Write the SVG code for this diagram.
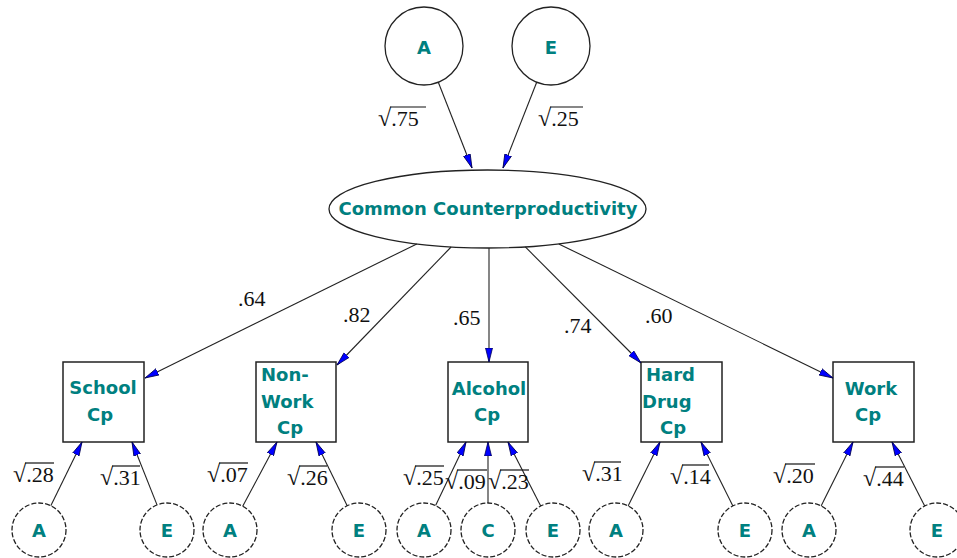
<svg xmlns="http://www.w3.org/2000/svg" width="957" height="558" viewBox="0 0 957 558">
  <style>
    .bg { fill: #ffffff; }
    .latent { fill: #ffffff; stroke: #222222; stroke-width: 1.3; }
    .resid { fill: #ffffff; stroke: #222222; stroke-width: 1.3; stroke-dasharray: 5 2; }
    .obs { fill: #ffffff; stroke: #222222; stroke-width: 1.5; }
    .lbl { font-family: "DejaVu Sans", Verdana, sans-serif; font-weight: bold; font-size: 18px; fill: #008080; }
    .lblc { font-family: "DejaVu Sans", Verdana, sans-serif; font-weight: bold; font-size: 18px; fill: #008080; text-anchor: middle; }
    .path { fill: none; stroke: #222222; stroke-width: 1.1; marker-end: url(#arr); }
    .coef { font-family: "Liberation Serif", "Times New Roman", serif; font-size: 22px; fill: #111111; }
    .rad { font-size: 24px; }
    .bar { stroke: #111111; stroke-width: 1.2; }
  </style>
  <defs>
    <marker id="arr" viewBox="0 0 14 8" refX="14" refY="4" markerWidth="14" markerHeight="8" orient="auto" markerUnits="userSpaceOnUse">
      <path d="M0,0.5 L14,4 L0,7.5 z" fill="#0000ff" stroke="#000050" stroke-width="0.8"/>
    </marker>
  </defs>
  <rect class="bg" x="0" y="0" width="957" height="558"/>

  <!-- common factor sources -->
  <g id="topA"><circle class="latent" cx="424" cy="46" r="39"/><text class="lblc" x="424" y="54">A</text></g>
  <g id="topE"><circle class="latent" cx="551" cy="46" r="39"/><text class="lblc" x="551" y="54">E</text></g>

  <!-- common factor -->
  <g id="common">
    <ellipse class="latent" cx="487.5" cy="209" rx="158.5" ry="39"/>
    <text class="lbl" x="488" y="215" text-anchor="middle">Common Counterproductivity</text>
  </g>

  <!-- observed measures -->
  <g id="school">
    <rect class="obs" x="63" y="362" width="81" height="80"/>
    <text class="lbl" x="103" y="394" text-anchor="middle">School</text>
    <text class="lbl" x="100" y="421" text-anchor="middle">Cp</text>
  </g>
  <g id="nonwork">
    <rect class="obs" x="256" y="362" width="80" height="80"/>
    <text class="lbl" x="261" y="381">Non-</text>
    <text class="lbl" x="261" y="408">Work</text>
    <text class="lbl" x="290" y="434" text-anchor="middle">Cp</text>
  </g>
  <g id="alcohol">
    <rect class="obs" x="448" y="362" width="80" height="80"/>
    <text class="lbl" x="489" y="395" text-anchor="middle">Alcohol</text>
    <text class="lbl" x="487" y="421" text-anchor="middle">Cp</text>
  </g>
  <g id="harddrug">
    <rect class="obs" x="641" y="362" width="81" height="80"/>
    <text class="lbl" x="646" y="381">Hard</text>
    <text class="lbl" x="642" y="408">Drug</text>
    <text class="lbl" x="673" y="434" text-anchor="middle">Cp</text>
  </g>
  <g id="work">
    <rect class="obs" x="833" y="362" width="81" height="80"/>
    <text class="lbl" x="871" y="395" text-anchor="middle">Work</text>
    <text class="lbl" x="868" y="421" text-anchor="middle">Cp</text>
  </g>

  <!-- residual sources -->
  <g id="schoolA"><circle class="resid" cx="39" cy="530" r="27"/><text class="lblc" x="39" y="537">A</text></g>
  <g id="schoolE"><circle class="resid" cx="167" cy="530" r="27"/><text class="lblc" x="167" y="537">E</text></g>
  <g id="nonworkA"><circle class="resid" cx="230" cy="530" r="27"/><text class="lblc" x="230" y="537">A</text></g>
  <g id="nonworkE"><circle class="resid" cx="359" cy="530" r="27"/><text class="lblc" x="359" y="537">E</text></g>
  <g id="alcoholA"><circle class="resid" cx="424" cy="530" r="27"/><text class="lblc" x="424" y="537">A</text></g>
  <g id="alcoholC"><circle class="resid" cx="488" cy="530" r="27"/><text class="lblc" x="488" y="537">C</text></g>
  <g id="alcoholE"><circle class="resid" cx="553" cy="530" r="27"/><text class="lblc" x="553" y="537">E</text></g>
  <g id="harddrugA"><circle class="resid" cx="616" cy="530" r="27"/><text class="lblc" x="616" y="537">A</text></g>
  <g id="harddrugE"><circle class="resid" cx="745" cy="530" r="27"/><text class="lblc" x="745" y="537">E</text></g>
  <g id="workA"><circle class="resid" cx="809" cy="530" r="27"/><text class="lblc" x="809" y="537">A</text></g>
  <g id="workE"><circle class="resid" cx="937" cy="530" r="27"/><text class="lblc" x="937" y="537">E</text></g>

  <!-- connectors -->
  <g id="connectors">
    <line class="path" x1="438.3" y1="82.3" x2="472" y2="168"/>
    <line class="path" x1="536.7" y1="82.3" x2="503" y2="168"/>

    <line class="path" x1="416.8" y1="243.9" x2="145" y2="378"/>
    <line class="path" x1="451.1" y1="247" x2="337" y2="365"/>
    <line class="path" x1="489" y1="248" x2="489" y2="362"/>
    <line class="path" x1="525.3" y1="246.9" x2="641" y2="363"/>
    <line class="path" x1="558.8" y1="243.9" x2="833" y2="378"/>

    <line class="path" x1="50.8" y1="505.8" x2="82" y2="442"/>
    <line class="path" x1="157" y1="504.9" x2="132" y2="442"/>
    <line class="path" x1="242.7" y1="506.2" x2="277" y2="442"/>
    <line class="path" x1="347.2" y1="505.8" x2="316" y2="442"/>
    <line class="path" x1="435.6" y1="505.6" x2="466" y2="442"/>
    <line class="path" x1="488" y1="503" x2="488" y2="442"/>
    <line class="path" x1="540.7" y1="506" x2="508" y2="442"/>
    <line class="path" x1="628.1" y1="505.9" x2="660" y2="442"/>
    <line class="path" x1="732.9" y1="505.9" x2="701" y2="442"/>
    <line class="path" x1="821.1" y1="505.9" x2="853" y2="442"/>
    <line class="path" x1="924.7" y1="506" x2="892" y2="442"/>
  </g>

  <!-- path coefficients -->
  <g id="loadings">
    <text class="coef" x="238" y="306">.64</text>
    <text class="coef" x="343" y="322">.82</text>
    <text class="coef" x="453" y="325">.65</text>
    <text class="coef" x="564" y="333">.74</text>
    <text class="coef" x="645" y="323">.60</text>
  </g>

  <!-- square-root variance labels -->
  <g id="variances">
    <text class="coef" x="378" y="126"><tspan class="rad">√</tspan>.75</text><line class="bar" x1="390" y1="107" x2="426" y2="107"/>
    <text class="coef" x="538" y="126"><tspan class="rad">√</tspan>.25</text><line class="bar" x1="550" y1="107" x2="583" y2="107"/>
    <text class="coef" x="13" y="482"><tspan class="rad">√</tspan>.28</text><line class="bar" x1="25" y1="463" x2="54" y2="463"/>
    <text class="coef" x="100" y="485"><tspan class="rad">√</tspan>.31</text><line class="bar" x1="112" y1="466" x2="140" y2="466"/>
    <text class="coef" x="207" y="482"><tspan class="rad">√</tspan>.07</text><line class="bar" x1="219" y1="463" x2="248" y2="463"/>
    <text class="coef" x="287" y="485"><tspan class="rad">√</tspan>.26</text><line class="bar" x1="299" y1="466" x2="327" y2="466"/>
    <text class="coef" x="403" y="485"><tspan class="rad">√</tspan>.25</text><line class="bar" x1="415" y1="466" x2="444" y2="466"/>
    <text class="coef" x="445" y="489"><tspan class="rad">√</tspan>.09</text><line class="bar" x1="457" y1="470" x2="487" y2="470"/>
    <text class="coef" x="488" y="489"><tspan class="rad">√</tspan>.23</text><line class="bar" x1="500" y1="470" x2="529" y2="470"/>
    <text class="coef" x="582" y="481"><tspan class="rad">√</tspan>.31</text><line class="bar" x1="594" y1="462" x2="621" y2="462"/>
    <text class="coef" x="670" y="484"><tspan class="rad">√</tspan>.14</text><line class="bar" x1="682" y1="465" x2="709" y2="465"/>
    <text class="coef" x="773" y="483"><tspan class="rad">√</tspan>.20</text><line class="bar" x1="785" y1="464" x2="815" y2="464"/>
    <text class="coef" x="863" y="486"><tspan class="rad">√</tspan>.44</text><line class="bar" x1="875" y1="467" x2="904" y2="467"/>
  </g>
</svg>
